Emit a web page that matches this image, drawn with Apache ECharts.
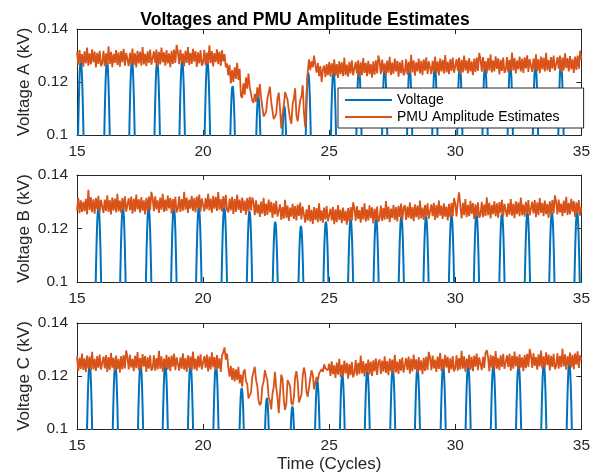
<!DOCTYPE html>
<html>
<head>
<meta charset="utf-8">
<script src="https://cdn.jsdelivr.net/npm/echarts@6/dist/echarts.min.js"></script>
<style>
html,body{margin:0;padding:0;background:#fff;}
#chart{width:593px;height:476px;}
</style>
</head>
<body>
<div id="chart"></div>
<script>
// ---------- data ----------
const panelNames = ['Voltage A (kV)', 'Voltage B (kV)', 'Voltage C (kV)'];
const seriesNames = ['Voltage', 'PMU Amplitude Estimates'];
const xTicks = [15, 20, 25, 30, 35];
const yTicks = [0.1, 0.12, 0.14];

// PMU estimates sampled every 0.05 cycle from t = 15.00 to 35.00 (one row per cycle)
const pmuStart = 15.0;
const pmuStep = 0.05;
const pmuA = [
.1312,.1265,.1320,.1272,.1305,.1258,.1316,.1270,.1330,.1262,.1308,.1266,.1323,.1275,.1315,.1255,.1310,.1268,.1318,.1260,
.1270,.1318,.1260,.1308,.1265,.1335,.1268,.1314,.1256,.1306,.1272,.1320,.1264,.1312,.1258,.1317,.1275,.1325,.1262,.1310,
.1315,.1260,.1310,.1268,.1326,.1264,.1308,.1255,.1318,.1270,.1314,.1262,.1332,.1266,.1306,.1260,.1316,.1272,.1322,.1265,
.1264,.1316,.1272,.1322,.1258,.1314,.1266,.1330,.1274,.1312,.1262,.1320,.1270,.1308,.1256,.1318,.1268,.1322,.1272,.1340,
.1314,.1267,.1322,.1274,.1307,.1260,.1318,.1272,.1332,.1264,.1310,.1268,.1325,.1277,.1317,.1257,.1312,.1270,.1320,.1262,
.1273,.1321,.1263,.1311,.1268,.1338,.1271,.1317,.1259,.1309,.1275,.1323,.1267,.1315,.1261,.1320,.1278,.1305,.1255,.1270,
.1225,.1265,.1195,.1245,.1200,.1255,.1212,.1272,.1208,.1250,.1148,.1140,.1195,.1152,.1218,.1175,.1232,.1180,.1175,.1130,
.1122,.1155,.1125,.1180,.1142,.1192,.1140,.1138,.1070,.1078,.1088,.1136,.1135,.1182,.1125,.1122,.1060,.1066,.1080,.1138,
.1160,.1100,.1025,.1080,.1108,.1162,.1168,.1132,.1092,.1062,.1042,.1116,.1138,.1176,.1074,.1052,.1058,.1132,.1145,.1188,
.1082,.1030,.1150,.1240,.1285,.1245,.1278,.1255,.1300,.1265,.1235,.1272,.1222,.1260,.1200,.1248,.1262,.1218,.1268,.1226,
.1275,.1220,.1270,.1228,.1286,.1224,.1268,.1215,.1278,.1230,.1274,.1222,.1292,.1226,.1266,.1220,.1276,.1232,.1282,.1225,
.1224,.1276,.1232,.1282,.1218,.1274,.1226,.1290,.1234,.1272,.1222,.1280,.1230,.1268,.1216,.1278,.1228,.1282,.1232,.1300,
.1277,.1230,.1285,.1237,.1270,.1223,.1281,.1235,.1295,.1227,.1273,.1231,.1288,.1240,.1280,.1220,.1275,.1233,.1283,.1225,
.1238,.1286,.1228,.1276,.1233,.1303,.1236,.1282,.1224,.1274,.1240,.1288,.1232,.1280,.1226,.1285,.1243,.1293,.1230,.1278,
.1285,.1230,.1280,.1238,.1296,.1234,.1278,.1225,.1288,.1240,.1284,.1232,.1302,.1236,.1276,.1230,.1286,.1242,.1292,.1235,
.1234,.1286,.1242,.1292,.1228,.1284,.1236,.1300,.1244,.1282,.1232,.1290,.1240,.1278,.1226,.1288,.1238,.1292,.1242,.1310,
.1286,.1239,.1294,.1246,.1279,.1232,.1290,.1244,.1304,.1236,.1282,.1240,.1297,.1249,.1289,.1229,.1284,.1242,.1292,.1234,
.1246,.1294,.1236,.1284,.1241,.1311,.1244,.1290,.1232,.1282,.1248,.1296,.1240,.1288,.1234,.1293,.1251,.1301,.1238,.1286,
.1293,.1238,.1288,.1246,.1304,.1242,.1286,.1233,.1296,.1248,.1292,.1240,.1310,.1244,.1284,.1238,.1294,.1250,.1300,.1243,
.1242,.1294,.1250,.1300,.1236,.1292,.1244,.1308,.1252,.1290,.1240,.1298,.1248,.1286,.1234,.1296,.1246,.1300,.1250,.1318,
.1285
];
const pmuB = [
.1267,.1315,.1257,.1305,.1262,.1300,.1265,.1311,.1253,.1345,.1269,.1317,.1261,.1309,.1255,.1314,.1272,.1322,.1259,.1307,
.1313,.1258,.1308,.1266,.1324,.1262,.1306,.1253,.1316,.1268,.1312,.1260,.1330,.1264,.1304,.1258,.1314,.1270,.1320,.1263,
.1261,.1313,.1269,.1319,.1255,.1311,.1263,.1327,.1271,.1309,.1259,.1317,.1267,.1305,.1253,.1315,.1265,.1319,.1269,.1337,
.1312,.1265,.1320,.1272,.1305,.1258,.1316,.1270,.1330,.1262,.1308,.1266,.1323,.1275,.1315,.1255,.1310,.1268,.1318,.1260,
.1272,.1320,.1262,.1310,.1267,.1337,.1270,.1316,.1258,.1308,.1274,.1322,.1266,.1314,.1260,.1319,.1277,.1327,.1264,.1312,
.1319,.1264,.1314,.1272,.1330,.1268,.1312,.1259,.1322,.1274,.1318,.1266,.1336,.1270,.1310,.1264,.1320,.1276,.1326,.1269,
.1260,.1312,.1268,.1318,.1254,.1310,.1262,.1326,.1270,.1308,.1258,.1316,.1266,.1304,.1252,.1314,.1264,.1318,.1268,.1316,
.1297,.1250,.1305,.1257,.1290,.1243,.1301,.1255,.1315,.1247,.1293,.1251,.1308,.1260,.1300,.1240,.1295,.1253,.1303,.1245,
.1242,.1290,.1232,.1280,.1237,.1307,.1240,.1286,.1228,.1278,.1244,.1292,.1236,.1284,.1230,.1289,.1247,.1297,.1234,.1282,
.1277,.1222,.1272,.1230,.1288,.1226,.1270,.1217,.1280,.1232,.1276,.1224,.1294,.1228,.1268,.1222,.1278,.1234,.1284,.1227,
.1222,.1274,.1230,.1280,.1216,.1272,.1224,.1288,.1232,.1270,.1220,.1278,.1228,.1266,.1214,.1276,.1226,.1280,.1230,.1298,
.1276,.1229,.1284,.1236,.1269,.1222,.1280,.1234,.1294,.1226,.1272,.1230,.1287,.1239,.1279,.1219,.1274,.1232,.1282,.1224,
.1238,.1286,.1228,.1276,.1233,.1303,.1236,.1282,.1224,.1274,.1240,.1288,.1232,.1280,.1226,.1285,.1243,.1293,.1230,.1278,
.1287,.1232,.1282,.1240,.1298,.1236,.1280,.1227,.1290,.1242,.1286,.1234,.1304,.1238,.1278,.1232,.1288,.1244,.1294,.1237,
.1238,.1290,.1246,.1296,.1232,.1288,.1240,.1304,.1248,.1286,.1236,.1294,.1244,.1282,.1230,.1292,.1242,.1296,.1246,.1314,
.1292,.1245,.1300,.1335,.1285,.1238,.1296,.1250,.1310,.1242,.1288,.1246,.1303,.1255,.1295,.1235,.1290,.1248,.1298,.1240,
.1252,.1300,.1242,.1290,.1247,.1317,.1250,.1296,.1238,.1288,.1254,.1302,.1246,.1294,.1240,.1299,.1257,.1307,.1244,.1292,
.1299,.1244,.1294,.1252,.1310,.1248,.1292,.1239,.1302,.1254,.1298,.1246,.1316,.1250,.1290,.1244,.1300,.1256,.1306,.1249,
.1248,.1300,.1256,.1306,.1242,.1298,.1250,.1314,.1258,.1296,.1246,.1304,.1254,.1292,.1240,.1302,.1252,.1306,.1256,.1324,
.1300,.1253,.1308,.1260,.1293,.1246,.1304,.1258,.1318,.1250,.1296,.1254,.1311,.1263,.1303,.1243,.1298,.1256,.1306,.1248,
.1280
];
const pmuC = [
.1274,.1219,.1269,.1227,.1285,.1223,.1267,.1214,.1277,.1229,.1273,.1221,.1291,.1225,.1265,.1219,.1275,.1231,.1281,.1224,
.1221,.1273,.1229,.1279,.1215,.1271,.1223,.1287,.1231,.1269,.1219,.1277,.1227,.1265,.1213,.1275,.1225,.1279,.1229,.1297,
.1272,.1225,.1280,.1232,.1265,.1218,.1276,.1230,.1290,.1222,.1268,.1226,.1283,.1235,.1275,.1215,.1270,.1228,.1278,.1220,
.1230,.1278,.1220,.1268,.1225,.1295,.1228,.1274,.1216,.1266,.1232,.1280,.1224,.1272,.1218,.1277,.1235,.1285,.1222,.1270,
.1275,.1220,.1270,.1228,.1286,.1224,.1268,.1215,.1278,.1230,.1274,.1222,.1292,.1226,.1266,.1220,.1276,.1232,.1282,.1225,
.1223,.1275,.1231,.1281,.1217,.1273,.1225,.1289,.1233,.1271,.1221,.1279,.1229,.1267,.1215,.1277,.1290,.1308,.1262,.1285,
.1232,.1198,.1238,.1185,.1230,.1180,.1225,.1185,.1235,.1172,.1205,.1160,.1215,.1225,.1180,.1170,.1115,.1122,.1138,.1195,
.1192,.1235,.1185,.1162,.1108,.1090,.1098,.1162,.1178,.1222,.1200,.1182,.1120,.1106,.1074,.1132,.1158,.1216,.1155,.1120,
.1060,.1136,.1205,.1190,.1110,.1072,.1095,.1185,.1190,.1162,.1098,.1090,.1120,.1196,.1218,.1180,.1100,.1105,.1130,.1200,
.1232,.1208,.1140,.1122,.1118,.1190,.1222,.1205,.1150,.1176,.1196,.1182,.1210,.1204,.1226,.1216,.1244,.1228,.1232,.1222,
.1247,.1200,.1255,.1207,.1240,.1193,.1251,.1205,.1265,.1197,.1243,.1201,.1258,.1210,.1250,.1190,.1245,.1203,.1253,.1195,
.1212,.1260,.1202,.1250,.1207,.1277,.1210,.1256,.1198,.1248,.1214,.1262,.1206,.1254,.1200,.1259,.1217,.1267,.1204,.1252,
.1263,.1208,.1258,.1216,.1274,.1212,.1256,.1203,.1266,.1218,.1262,.1210,.1280,.1214,.1254,.1208,.1264,.1220,.1270,.1213,
.1215,.1267,.1223,.1273,.1209,.1265,.1217,.1281,.1225,.1263,.1213,.1271,.1221,.1259,.1207,.1269,.1219,.1273,.1223,.1291,
.1269,.1222,.1277,.1229,.1262,.1215,.1273,.1227,.1287,.1219,.1265,.1223,.1280,.1232,.1272,.1212,.1267,.1225,.1275,.1217,
.1230,.1278,.1220,.1268,.1225,.1295,.1228,.1274,.1216,.1266,.1232,.1280,.1224,.1272,.1218,.1277,.1235,.1285,.1222,.1270,
.1277,.1222,.1272,.1230,.1288,.1298,.1270,.1217,.1280,.1232,.1276,.1224,.1294,.1228,.1268,.1222,.1278,.1234,.1284,.1227,
.1226,.1278,.1234,.1284,.1220,.1276,.1228,.1292,.1236,.1274,.1224,.1282,.1232,.1270,.1218,.1280,.1230,.1284,.1234,.1302,
.1278,.1231,.1286,.1238,.1271,.1224,.1282,.1236,.1296,.1228,.1274,.1232,.1289,.1241,.1281,.1221,.1276,.1234,.1284,.1226,
.1238,.1286,.1228,.1276,.1233,.1303,.1236,.1282,.1224,.1274,.1240,.1288,.1232,.1280,.1226,.1285,.1243,.1293,.1230,.1278,
.1262
];

// Voltage waveform: time and height of each positive peak
const peakTimesA = [15.15,16.19,17.18,18.18,19.17,20.17,21.17,22.19,23.22,24.17,25.17,26.18,27.20,28.19,29.19,30.18,31.18,32.18,33.18,34.19];
const peakValsA  = [.1280,.1280,.1280,.1280,.1280,.1280,.1185,.1145,.1110,.1235,.1245,.1250,.1255,.1255,.1260,.1260,.1262,.1265,.1265,.1270];
const peakTimesB = [15.85,16.82,17.84,18.84,19.83,20.84,21.84,22.86,23.88,24.87,25.85,26.86,27.86,28.84,29.85,30.84,31.85,32.86,33.83,34.83];
const peakValsB  = [.1280,.1280,.1280,.1280,.1280,.1280,.1265,.1225,.1210,.1225,.1235,.1240,.1245,.1245,.1250,.1255,.1255,.1260,.1260,.1265];
const peakTimesC = [15.50,16.52,17.52,18.50,19.50,20.51,21.53,22.53,23.54,24.53,25.52,26.51,27.52,28.50,29.52,30.51,31.51,32.51,33.51,34.52];
const peakValsC  = [.1245,.1245,.1245,.1245,.1245,.1245,.1155,.1117,.1085,.1180,.1205,.1220,.1228,.1230,.1235,.1240,.1240,.1245,.1245,.1248];

// shape of one peak of the waveform (offset in cycles, fraction of the peak)
const peakShapeDt   = [-0.16,-0.12,-0.10,-0.08,-0.06,-0.04,-0.02,0,0.02,0.04,0.06,0.08,0.10,0.12,0.16];
const peakShapeFrac = [0.536,0.729,0.809,0.876,0.930,0.969,0.992,1,0.992,0.969,0.930,0.876,0.809,0.729,0.536];

// ---------- build ----------
const pmuSets = [pmuA, pmuB, pmuC];
const peakSets = [[peakTimesA, peakValsA], [peakTimesB, peakValsB], [peakTimesC, peakValsC]];

function pmuData(arr) {
  return arr.map((v, i) => [+(pmuStart + pmuStep * i).toFixed(3), v]);
}
function waveData(times, vals) {
  const out = [];
  times.forEach((t, k) => {
    peakShapeDt.forEach((dt, j) => out.push([+(t + dt).toFixed(3), vals[k] * peakShapeFrac[j]]));
  });
  return out;
}

const FONT = "'Liberation Sans', Arial, Helvetica, sans-serif";
const TXT = '#262626';
const grids = [
  {left: 77, top: 29, width: 506, height: 106},
  {left: 77, top: 175, width: 506, height: 107},
  {left: 77, top: 323, width: 506, height: 106}
];

const xAxes = [], yAxes = [], series = [];
grids.forEach((g, p) => {
  const lineStyle = {color: TXT, width: 1};
  xAxes.push({
    type: 'value', gridIndex: p, position: 'bottom',
    min: xTicks[0], max: xTicks[xTicks.length - 1], interval: 5,
    axisLine: {show: true, onZero: false, lineStyle},
    axisTick: {show: true, inside: true, length: 5, lineStyle},
    axisLabel: {show: true, color: TXT, fontFamily: FONT, fontSize: 15.5, margin: 9},
    splitLine: {show: false},
    name: p === 2 ? 'Time (Cycles)' : '',
    nameLocation: 'middle', nameGap: 27, nameMoveOverlap: false,
    nameTextStyle: {color: TXT, fontFamily: FONT, fontSize: 17}
  });
  xAxes.push({
    type: 'value', gridIndex: p, position: 'top',
    min: xTicks[0], max: xTicks[xTicks.length - 1], interval: 5,
    axisLine: {show: true, onZero: false, lineStyle},
    axisTick: {show: true, inside: true, length: 5, lineStyle},
    axisLabel: {show: false}, splitLine: {show: false}
  });
  yAxes.push({
    type: 'value', gridIndex: p, position: 'left',
    min: yTicks[0], max: yTicks[yTicks.length - 1], interval: 0.02,
    axisLine: {show: true, onZero: false, lineStyle},
    axisTick: {show: true, inside: true, length: 5, lineStyle},
    axisLabel: {show: true, color: TXT, fontFamily: FONT, fontSize: 15.5, margin: 9,
      formatter: v => String(+v.toFixed(2))},
    splitLine: {show: false},
    name: panelNames[p], nameLocation: 'middle', nameRotate: 90, nameGap: 44, nameMoveOverlap: false,
    nameTextStyle: {color: TXT, fontFamily: FONT, fontSize: 17}
  });
  yAxes.push({
    type: 'value', gridIndex: p, position: 'right',
    min: yTicks[0], max: yTicks[yTicks.length - 1], interval: 0.02,
    axisLine: {show: true, onZero: false, lineStyle},
    axisTick: {show: true, inside: true, length: 5, lineStyle},
    axisLabel: {show: false}, splitLine: {show: false}
  });
  series.push({
    name: seriesNames[0], type: 'line', xAxisIndex: 2 * p, yAxisIndex: 2 * p,
    data: waveData(peakSets[p][0], peakSets[p][1]),
    showSymbol: false, symbol: 'none', clip: true,
    lineStyle: {color: '#0072BD', width: 2}, itemStyle: {color: '#0072BD'}
  });
  series.push({
    name: seriesNames[1], type: 'line', xAxisIndex: 2 * p, yAxisIndex: 2 * p,
    data: pmuData(pmuSets[p]),
    showSymbol: false, symbol: 'none', clip: true,
    lineStyle: {color: '#D95319', width: 1.8}, itemStyle: {color: '#D95319'}
  });
});

const chart = echarts.init(document.getElementById('chart'), null, {renderer: 'canvas'});
chart.setOption({
  animation: false,
  backgroundColor: '#fff',
  title: {
    text: 'Voltages and PMU Amplitude Estimates',
    left: 300, top: 6, textAlign: 'center',
    textStyle: {color: '#000', fontFamily: FONT, fontSize: 17.5, fontWeight: 'bold'}
  },
  legend: {
    data: seriesNames, orient: 'vertical', left: 338, top: 88,
    itemWidth: 47, itemHeight: 14, itemGap: 3,
    padding: [5, 24, 4, 7],
    backgroundColor: '#fff', borderColor: TXT, borderWidth: 1, borderRadius: 0,
    textStyle: {color: '#000', fontFamily: FONT, fontSize: 14},
    icon: 'path://M0,6 L47,6 L47,8 L0,8 Z'
  },
  grid: grids,
  xAxis: xAxes,
  yAxis: yAxes,
  series
});
</script>
</body>
</html>
